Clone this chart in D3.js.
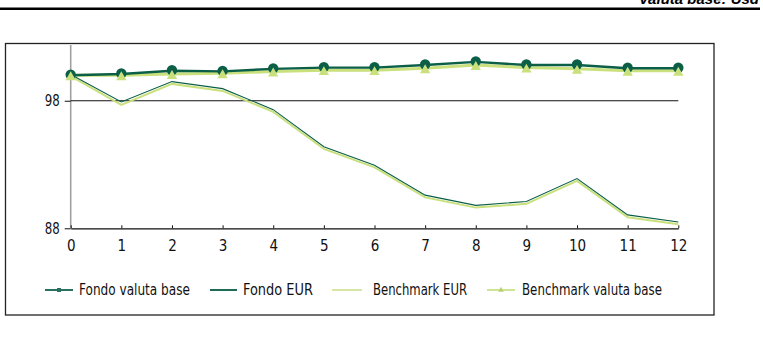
<!DOCTYPE html>
<html>
<head>
<meta charset="utf-8">
<script src="https://cdn.jsdelivr.net/npm/d3@7"></script>
<style>
	body { margin: 0; background: #fff; }
	svg { display: block; }
	text { font-family: "Liberation Sans Narrow", "DejaVu Sans Condensed", sans-serif; }
</style>
</head>
<body>
<script>
const months = [0, 1, 2, 3, 4, 5, 6, 7, 8, 9, 10, 11, 12];
const fondoValutaBase = [100.0, 100.1, 100.35, 100.3, 100.5, 100.6, 100.6, 100.8, 101.05, 100.8, 100.8, 100.55, 100.55];
const benchmarkValutaBase = [100.0, 100.0, 100.1, 100.15, 100.3, 100.4, 100.4, 100.55, 100.8, 100.6, 100.5, 100.35, 100.35];
const fondoEur = [100.05, 97.9, 99.5, 98.95, 97.3, 94.4, 92.95, 90.6, 89.8, 90.1, 91.9, 89.05, 88.5];
const benchmarkEur = [100.0, 97.75, 99.4, 98.85, 97.2, 94.3, 92.85, 90.5, 89.7, 90.0, 91.8, 88.95, 88.4];
const yTicks = [88, 98];
const legendLabels = ["Fondo valuta base", "Fondo EUR", "Benchmark EUR", "Benchmark valuta base"];

(() => {
	let width = 763;
	let height = 342;
	let dark = "#0b5f47";
	let light = "#c9e07c";

	let svg = d3.select("body").append("svg").attr("width", width).attr("height", height);

	// header (cut at the top, as in the source page)
	svg.append("text")
		.attr("x", 759).attr("y", 4)
		.attr("text-anchor", "end")
		.style("font-family", "Liberation Sans, Arial, sans-serif")
		.style("font-weight", "bold").style("font-style", "italic")
		.style("font-size", "15px")
		.text("Valuta base: Usd");
	svg.append("rect").attr("x", 0).attr("y", 7.5).attr("width", 760).attr("height", 2.5).attr("fill", "#000");

	// frame
	svg.append("rect")
		.attr("x", 5.5).attr("y", 43.5).attr("width", 708.5).attr("height", 271.5)
		.attr("fill", "#fff").attr("stroke", "#222").attr("stroke-width", 1.3);

	let x = d3.scaleLinear().domain([0, 12]).range([70.7, 678.3]);
	let y = d3.scaleLinear().domain([88, 102.37]).range([228.3, 45]);

	// y axis line (grey)
	svg.append("line")
		.attr("x1", x(0)).attr("x2", x(0))
		.attr("y1", y.range()[1]).attr("y2", y(88))
		.attr("stroke", "#a0a0a0").attr("stroke-width", 1.6);

	// gridline at 98
	svg.append("line")
		.attr("x1", x(0)).attr("x2", x(12))
		.attr("y1", y(98)).attr("y2", y(98))
		.attr("stroke", "#111").attr("stroke-width", 1.2);

	let yAxis = svg.append("g")
		.attr("transform", `translate(${x(0)},0)`)
		.call(d3.axisLeft(y).tickValues(yTicks).tickSize(6).tickPadding(5));
	yAxis.select(".domain").remove();
	yAxis.selectAll("line").attr("stroke", "#111");
	yAxis.selectAll("text").style("font-size", "15px").attr("fill", "#111").attr("dy", "0.35em")
		.attr("textLength", 15).attr("lengthAdjust", "spacingAndGlyphs");

	let xAxis = svg.append("g")
		.attr("transform", `translate(0,${y(88)})`)
		.call(d3.axisBottom(x).tickValues(months).tickSize(-3).tickPadding(12).tickSizeOuter(0));
	xAxis.select(".domain").attr("stroke", "#111").attr("stroke-width", 1.2);
	xAxis.selectAll("line").attr("stroke", "#111");
	xAxis.selectAll("text").style("font-size", "15px").attr("fill", "#111");

	let line = d3.line().x((d, i) => x(months[i])).y(d => y(d));

	// lower pair
	svg.append("path").datum(benchmarkEur).attr("d", line)
		.attr("fill", "none").attr("stroke", light).attr("stroke-width", 2)
		.attr("transform", "translate(0,1)");
	svg.append("path").datum(fondoEur).attr("d", line)
		.attr("fill", "none").attr("stroke", dark).attr("stroke-width", 1.1);

	// upper pair
	svg.append("path").datum(benchmarkValutaBase).attr("d", line)
		.attr("fill", "none").attr("stroke", light).attr("stroke-width", 3);
	svg.append("path").datum(fondoValutaBase).attr("d", line)
		.attr("fill", "none").attr("stroke", dark).attr("stroke-width", 2.4);

	svg.selectAll(".mk-dark").data(fondoValutaBase).enter().append("circle")
		.attr("class", "mk-dark")
		.attr("cx", (d, i) => x(months[i])).attr("cy", d => y(d) - 0.5)
		.attr("r", 5.2).attr("fill", dark);

	let tri = d3.symbol().type(d3.symbolTriangle).size(46);
	svg.selectAll(".mk-light").data(benchmarkValutaBase).enter().append("path")
		.attr("class", "mk-light")
		.attr("d", tri)
		.attr("transform", (d, i) => `translate(${x(months[i])},${y(d) + 2})`)
		.attr("fill", light);

	// legend
	let legendY = 290;
	let legendItems = [
		{x1: 45, x2: 73, tx: 79, tw: 111, color: "#2a7060", mark: "square"},
		{x1: 210, x2: 237, tx: 243, tw: 70, color: "#1f6a58", mark: null},
		{x1: 332, x2: 362, tx: 373, tw: 94, color: "#d6e6a4", mark: null},
		{x1: 487, x2: 515, tx: 522, tw: 140, color: "#d0e496", mark: "tri"}
	];
	let lg = svg.selectAll(".legend").data(legendItems).enter().append("g").attr("class", "legend");
	lg.append("line")
		.attr("x1", d => d.x1).attr("x2", d => d.x2)
		.attr("y1", legendY).attr("y2", legendY)
		.attr("stroke", d => d.color).attr("stroke-width", 2);
	lg.filter(d => d.mark === "square").append("rect")
		.attr("x", d => (d.x1 + d.x2) / 2 - 2).attr("y", legendY - 2)
		.attr("width", 4).attr("height", 4).attr("fill", d => d.color);
	lg.filter(d => d.mark === "tri").append("path")
		.attr("d", d3.symbol().type(d3.symbolTriangle).size(14))
		.attr("transform", d => `translate(${(d.x1 + d.x2) / 2},${legendY})`)
		.attr("fill", "#b8d070");
	lg.append("text")
		.attr("x", d => d.tx).attr("y", legendY).attr("dy", "0.35em")
		.attr("textLength", d => d.tw).attr("lengthAdjust", "spacingAndGlyphs")
		.style("font-size", "15px").attr("fill", "#111")
		.text((d, i) => legendLabels[i]);
})();
</script>
</body>
</html>
